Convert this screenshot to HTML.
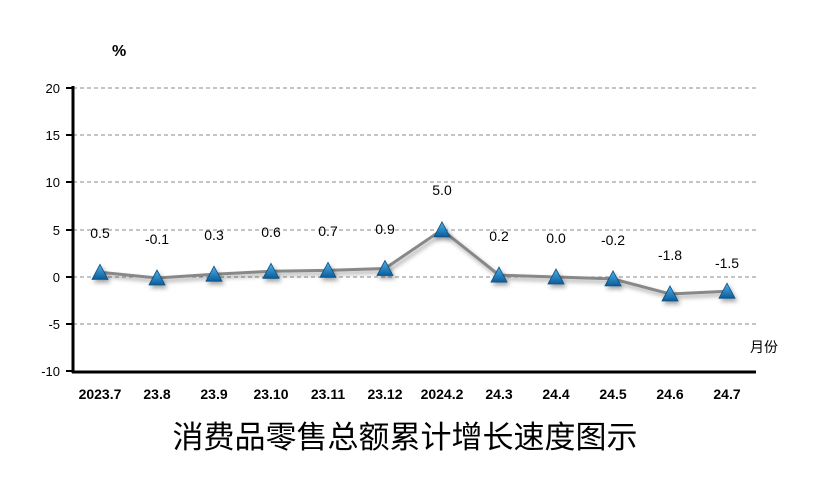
<!DOCTYPE html>
<html><head><meta charset="utf-8"><style>
body{margin:0;background:#fff}
text{font-family:"Liberation Sans","Noto Sans CJK SC",sans-serif}
</style></head><body>
<svg width="824" height="481" xmlns="http://www.w3.org/2000/svg">
<defs>
<linearGradient id="g" x1="0" y1="0" x2="0" y2="1"><stop offset="0" stop-color="#4fb3e8"/><stop offset="1" stop-color="#0a5c9c"/></linearGradient>
<filter id="s" x="-50%" y="-50%" width="200%" height="200%"><feDropShadow dx="2" dy="3" stdDeviation="2" flood-color="#000" flood-opacity="0.35"/></filter>
</defs>
<g stroke="#888" stroke-dasharray="4,3" stroke-width="1">
<line x1="73" y1="88" x2="756" y2="88"/><line x1="73" y1="135" x2="756" y2="135"/>
<line x1="73" y1="182" x2="756" y2="182"/><line x1="73" y1="230" x2="756" y2="230"/>
<line x1="73" y1="277" x2="756" y2="277"/><line x1="73" y1="324" x2="756" y2="324"/>
</g>
<g stroke="#000" stroke-width="3"><line x1="73" y1="86" x2="73" y2="373"/><line x1="72" y1="372" x2="756" y2="372"/>
<g stroke-width="2"><line x1="66" y1="88" x2="73" y2="88"/><line x1="66" y1="135" x2="73" y2="135"/><line x1="66" y1="182" x2="73" y2="182"/><line x1="66" y1="230" x2="73" y2="230"/><line x1="66" y1="277" x2="73" y2="277"/><line x1="66" y1="324" x2="73" y2="324"/><line x1="66" y1="371" x2="73" y2="371"/></g></g>
<g font-size="13" text-anchor="end"><text x="60" y="93">20</text><text x="60" y="140">15</text><text x="60" y="187">10</text><text x="60" y="235">5</text><text x="60" y="282">0</text><text x="60" y="329">-5</text><text x="60" y="376">-10</text></g>
<text x="112" y="56" font-size="16" font-weight="bold">%</text>
<text x="750" y="352" font-size="14">月份</text>
<polyline fill="none" stroke="#888" stroke-width="3" filter="url(#s)" points="100,272.3 157,278 214,274.2 271,271.3 328,270.4 385,268.5 442,229.8 499,275.1 556,277 613,278.9 670,294 727,291.2"/>
<g fill="url(#g)" stroke="#0a4f80" stroke-width="0.8" filter="url(#s)">
<polygon points="100,264.3 92,279.3 108,279.3"/><polygon points="157,270 149,285 165,285"/><polygon points="214,266.2 206,281.2 222,281.2"/><polygon points="271,263.3 263,278.3 279,278.3"/><polygon points="328,262.4 320,277.4 336,277.4"/><polygon points="385,260.5 377,275.5 393,275.5"/><polygon points="442,221.8 434,236.8 450,236.8"/><polygon points="499,267.1 491,282.1 507,282.1"/><polygon points="556,269 548,284 564,284"/><polygon points="613,270.9 605,285.9 621,285.9"/><polygon points="670,286 662,301 678,301"/><polygon points="727,283.2 719,298.2 735,298.2"/>
</g>
<g font-size="14" text-anchor="middle">
<text x="100" y="238">0.5</text><text x="157" y="244">-0.1</text><text x="214" y="240">0.3</text><text x="271" y="237">0.6</text><text x="328" y="236">0.7</text><text x="385" y="234">0.9</text><text x="442" y="195">5.0</text><text x="499" y="241">0.2</text><text x="556" y="243">0.0</text><text x="613" y="245">-0.2</text><text x="670" y="260">-1.8</text><text x="727" y="268">-1.5</text>
</g>
<g font-size="14" font-weight="bold" text-anchor="middle">
<text x="100" y="399">2023.7</text><text x="157" y="399">23.8</text><text x="214" y="399">23.9</text><text x="271" y="399">23.10</text><text x="328" y="399">23.11</text><text x="385" y="399">23.12</text><text x="442" y="399">2024.2</text><text x="499" y="399">24.3</text><text x="556" y="399">24.4</text><text x="613" y="399">24.5</text><text x="670" y="399">24.6</text><text x="727" y="399">24.7</text>
</g>
<text x="405" y="448" font-size="31" text-anchor="middle" font-family="'Noto Sans CJK SC',sans-serif">消费品零售总额累计增长速度图示</text>
</svg>
</body></html>
